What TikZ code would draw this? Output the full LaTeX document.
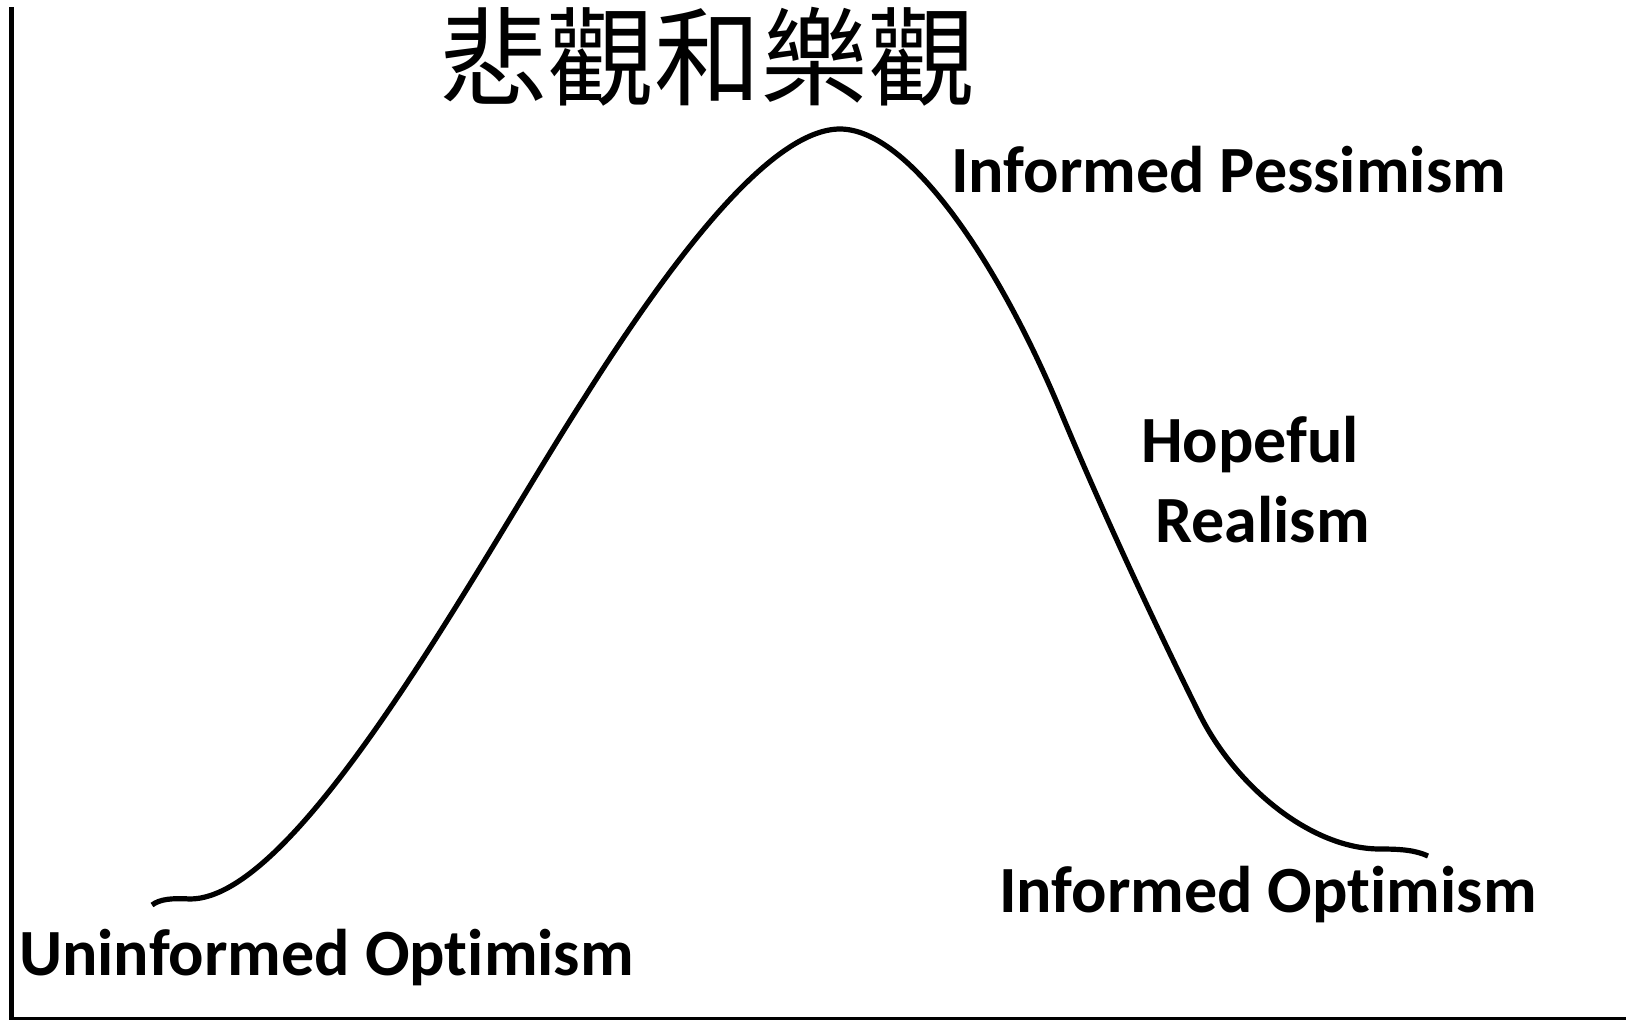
\documentclass[tikz,border=0pt]{standalone}
\usepackage{fontspec}
\setmainfont{Carlito}[Ligatures={NoCommon,NoRare}]
\newfontfamily\cjk{Noto Sans CJK TC}
\begin{document}
\begin{tikzpicture}[x=1pt,y=-1pt,
  lbl/.style={font=\fontsize{66}{79}\selectfont\bfseries, inner sep=0pt, anchor=base west},
  ttl/.style={font=\cjk\fontsize{107}{112}\selectfont, inner sep=0pt},
  curve/.style={line width=5.2pt, line cap=butt, line join=round}]
\useasboundingbox (0,0) rectangle (1626,1021);
\fill[white] (0,0) rectangle (1626,1021);
% axes
\coordinate (top) at (11.5,7);
\coordinate (origin) at (11.5,1018.5);
\coordinate (right) at (1626,1018.5);
\draw[line width=5.5pt] (top) -- (origin);
\draw[line width=3.5pt] (9,1018.5) -- (right);
% curve
\coordinate (c0) at (152,905);
\coordinate (c1) at (190,899);
\coordinate (c3) at (583,400);
\coordinate (peak) at (840,129);
\coordinate (c5) at (1060,410);
\coordinate (c6) at (1200,715);
\coordinate (c7) at (1380,849);
\coordinate (c8) at (1428,856);
\draw[curve] (c0) .. controls (160,899) and (172,898) .. (c1)
  .. controls (300,899) and (480,560) .. (c3)
  .. controls (670,262) and (770,129) .. (peak)
  .. controls (910,129) and (1000,266) .. (c5)
  .. controls (1110,530) and (1170,655) .. (c6)
  .. controls (1235,785) and (1310,849) .. (c7)
  .. controls (1400,849) and (1415,850) .. (c8);
% labels
\node[ttl] (title) at (708,57) {悲觀和樂觀};
\node[lbl] (uo) at (19,975) {Uninformed Optimism};
\node[lbl] (ip) at (951,192) {Informed Pessimism};
\node[lbl] (hope) at (1141,462) {Hopeful};
\node[lbl] (real) at (1155,542) {Realism};
\node[lbl] (io) at (999,912) {Informed Optimism};
\end{tikzpicture}
\end{document}
